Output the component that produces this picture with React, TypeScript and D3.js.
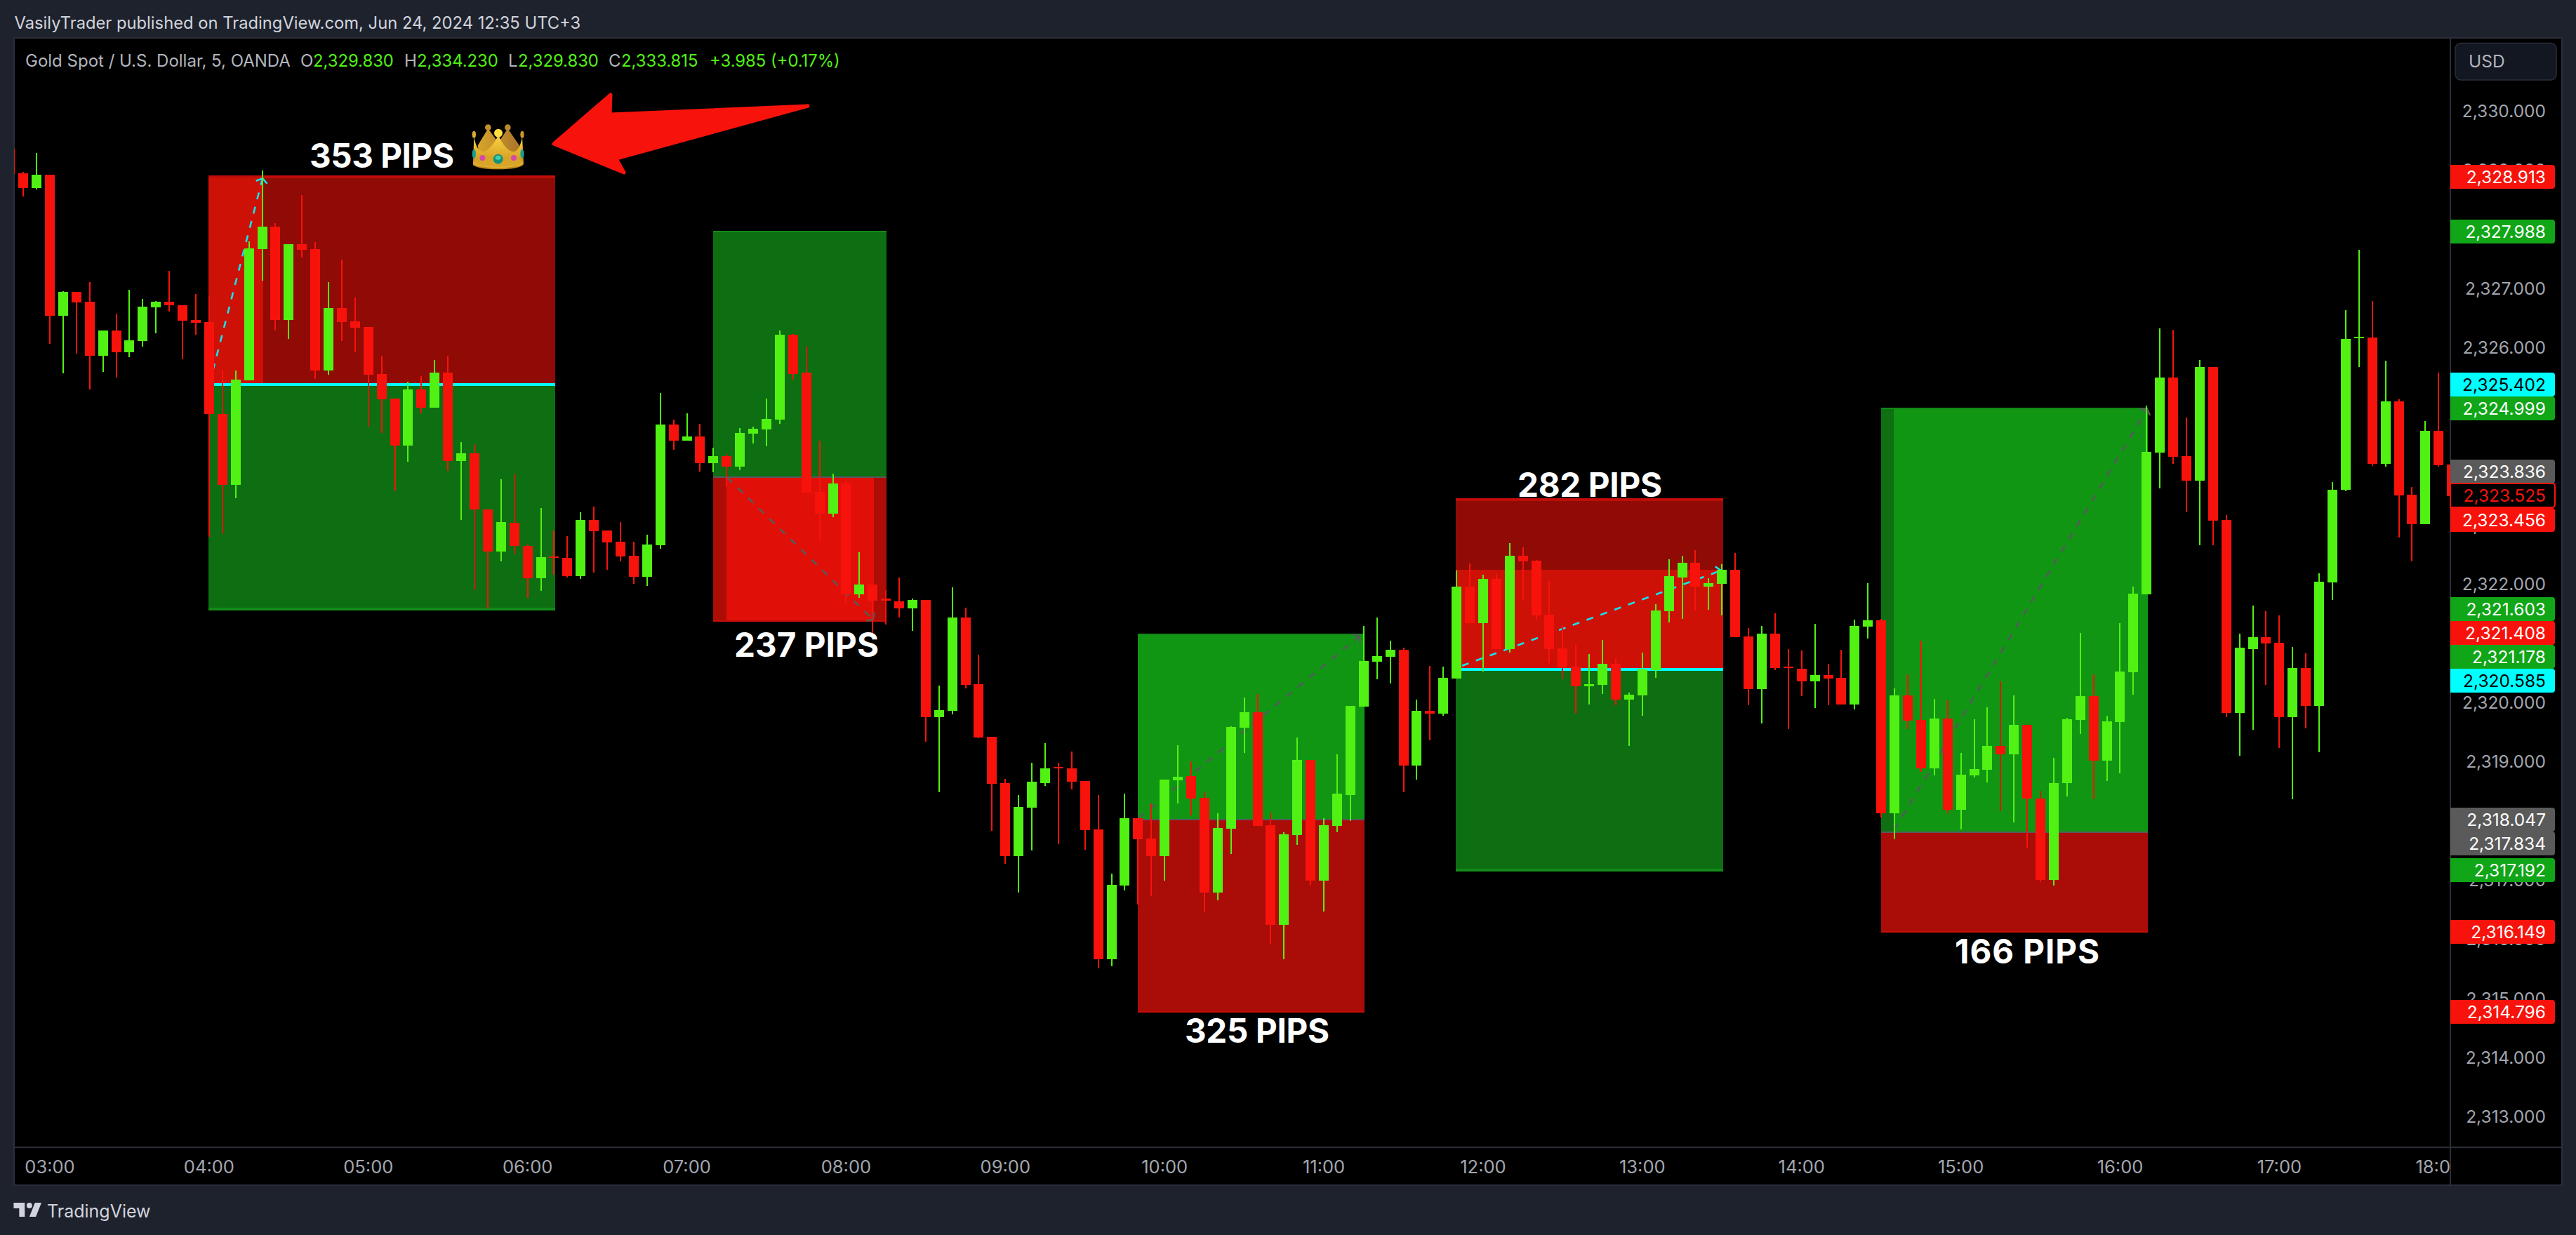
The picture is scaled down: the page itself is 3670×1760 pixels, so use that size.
import React from "react";
import * as d3 from "d3";

// ---------- data ----------
const symbolTitle = "Gold Spot / U.S. Dollar, 5, OANDA";
const publishLine = "VasilyTrader published on TradingView.com, Jun 24, 2024 12:35 UTC+3";
const ohlcLabels = ["O", "H", "L", "C"];
const ohlcValues = ["2,329.830", "2,334.230", "2,329.830", "2,333.815"];
const changeText = "+3.985 (+0.17%)";
const hourLabels = ["03:00","04:00","05:00","06:00","07:00","08:00","09:00","10:00","11:00","12:00","13:00","14:00","15:00","16:00","17:00","18:00"];
const priceTicks = [2330,2329,2328,2327,2326,2325,2324,2323,2322,2321,2320,2319,2318,2317,2316,2315,2314,2313];
const priceTags: [number, string][] = [
  [2328.913,"red"],[2327.988,"green"],[2325.402,"cyan"],[2324.999,"green"],[2323.836,"grey"],[2323.525,"outline"],[2323.456,"red"],
  [2321.603,"green"],[2321.408,"red"],[2321.178,"green"],[2320.585,"cyan"],[2318.047,"grey"],[2317.834,"grey"],[2317.192,"green"],[2316.149,"red"],[2314.796,"red"],
];
const pipLabels = ["353 PIPS","237 PIPS","325 PIPS","282 PIPS","166 PIPS"];

// first bar is three 5-minute bars before 03:00; [open, high, low, close]
const firstBar = -3;
const bars: [number,number,number,number][] = [
[2329.36,2329.36,2328.93,2328.93],[2328.95,2328.97,2328.55,2328.69],[2328.69,2329.29,2328.67,2328.92],
[2328.92,2328.92,2326.06,2326.54],[2326.54,2326.95,2325.56,2326.94],[2326.94,2326.94,2325.89,2326.76],[2326.77,2327.11,2325.29,2325.86],
[2325.86,2326.29,2325.59,2326.29],[2326.29,2326.57,2325.49,2325.92],[2325.92,2326.97,2325.84,2326.12],[2326.11,2326.82,2326.02,2326.69],
[2326.68,2326.78,2326.24,2326.77],[2326.77,2327.29,2326.61,2326.71],[2326.72,2326.72,2325.80,2326.45],[2326.46,2326.90,2326.21,2326.42],
[2326.43,2326.88,2322.80,2324.88],[2324.88,2325.61,2322.85,2323.68],[2323.68,2325.61,2323.45,2325.46],[2325.44,2327.79,2325.44,2327.68],
[2327.66,2328.99,2327.13,2328.04],[2328.04,2328.10,2326.29,2326.46],[2326.46,2327.75,2326.14,2327.75],[2327.75,2328.58,2327.52,2327.65],
[2327.66,2327.78,2325.47,2325.61],[2325.61,2327.11,2325.54,2326.67],[2326.67,2327.48,2326.11,2326.43],[2326.44,2326.84,2325.92,2326.34],
[2326.35,2326.35,2324.66,2325.54],[2325.55,2325.86,2324.55,2325.13],[2325.14,2325.14,2323.57,2324.34],[2324.34,2325.42,2324.07,2325.29],
[2325.29,2325.52,2324.89,2324.98],[2324.98,2325.79,2324.98,2325.58],[2325.58,2325.86,2323.91,2324.08],[2324.08,2324.40,2323.08,2324.21],
[2324.21,2324.36,2321.90,2323.26],[2323.26,2323.26,2321.59,2322.55],[2322.55,2323.77,2322.39,2323.05],[2323.04,2323.87,2322.50,2322.65],
[2322.65,2322.67,2321.77,2322.10],[2322.10,2323.28,2321.89,2322.45],[2322.47,2322.91,2322.16,2322.45],[2322.44,2322.81,2322.11,2322.14],
[2322.14,2323.22,2322.09,2323.09],[2323.09,2323.31,2322.19,2322.90],[2322.91,2322.91,2322.24,2322.71],[2322.72,2323.05,2322.38,2322.47],
[2322.48,2322.72,2322.00,2322.12],[2322.12,2322.83,2321.97,2322.67],[2322.66,2325.23,2322.60,2324.70],[2324.70,2324.78,2324.27,2324.42],
[2324.42,2324.89,2324.42,2324.49],[2324.49,2324.71,2323.90,2324.05],[2324.05,2324.31,2323.89,2324.16],[2324.16,2324.20,2323.64,2323.99],
[2323.99,2324.64,2323.93,2324.56],[2324.54,2324.66,2324.38,2324.63],[2324.62,2325.14,2324.33,2324.79],[2324.78,2326.29,2324.71,2326.22],
[2326.22,2326.23,2325.46,2325.55],[2325.57,2326.03,2323.55,2323.55],[2323.56,2324.43,2322.73,2323.19],[2323.19,2323.87,2323.13,2323.70],
[2323.70,2323.74,2321.68,2321.83],[2321.83,2322.54,2321.77,2321.99],[2321.99,2321.99,2321.16,2321.72],[2321.75,2321.90,2321.32,2321.72],
[2321.71,2322.11,2321.43,2321.59],[2321.59,2321.76,2321.21,2321.73],[2321.73,2321.73,2319.33,2319.75],[2319.75,2320.29,2318.48,2319.87],
[2319.86,2321.94,2319.80,2321.44],[2321.44,2321.60,2320.24,2320.30],[2320.31,2320.81,2319.40,2319.41],[2319.42,2319.42,2317.83,2318.62],
[2318.63,2318.71,2317.27,2317.40],[2317.40,2318.44,2316.79,2318.23],[2318.22,2318.98,2317.50,2318.66],[2318.64,2319.31,2318.59,2318.89],
[2318.91,2318.98,2317.60,2318.88],[2318.89,2319.17,2318.53,2318.66],[2318.67,2318.67,2317.51,2317.84],[2317.85,2318.44,2315.51,2315.66],
[2315.66,2317.10,2315.54,2316.91],[2316.90,2318.46,2316.82,2318.04],[2318.04,2318.04,2316.58,2317.69],[2317.70,2318.29,2316.73,2317.40],
[2317.40,2318.69,2316.99,2318.69],[2318.68,2319.28,2318.29,2318.74],[2318.75,2319.00,2318.09,2318.37],[2318.39,2318.48,2316.45,2316.79],
[2316.79,2318.13,2316.66,2317.88],[2317.87,2319.60,2317.44,2319.58],[2319.57,2320.08,2319.14,2319.83],[2319.83,2320.14,2317.91,2317.91],
[2317.92,2318.14,2315.92,2316.24],[2316.24,2317.80,2315.66,2317.77],[2317.76,2319.41,2317.59,2319.03],[2319.03,2319.03,2316.90,2316.99],
[2316.99,2318.04,2316.46,2317.92],[2317.91,2319.12,2317.80,2318.46],[2318.44,2319.94,2318.00,2319.94],[2319.93,2321.29,2319.93,2320.70],
[2320.69,2321.43,2320.39,2320.78],[2320.77,2321.04,2320.32,2320.89],[2320.89,2320.93,2318.48,2318.93],[2318.93,2320.05,2318.69,2319.86],
[2319.86,2320.62,2319.36,2319.81],[2319.81,2320.60,2319.78,2320.41],[2320.40,2322.23,2320.40,2321.96],[2321.96,2322.35,2321.34,2321.34],
[2321.34,2322.16,2320.52,2322.09],[2322.09,2322.18,2320.90,2320.90],[2320.90,2322.69,2320.84,2322.48],[2322.48,2322.62,2321.73,2322.38],
[2322.40,2322.41,2321.40,2321.47],[2321.48,2322.05,2320.67,2320.90],[2320.91,2321.31,2320.40,2320.59],[2320.61,2320.97,2319.81,2320.27],
[2320.27,2320.82,2319.97,2320.31],[2320.30,2321.06,2320.14,2320.65],[2320.65,2320.75,2319.95,2320.05],[2320.05,2320.17,2319.27,2320.13],
[2320.12,2320.84,2319.78,2320.56],[2320.55,2321.66,2320.41,2321.55],[2321.54,2322.42,2321.35,2322.13],[2322.11,2322.48,2321.41,2322.36],
[2322.36,2322.58,2321.55,2321.96],[2321.96,2322.10,2321.56,2322.02],[2322.00,2322.34,2321.47,2322.24],[2322.24,2322.53,2321.10,2321.10],
[2321.11,2321.26,2319.95,2320.22],[2320.22,2321.29,2319.65,2321.16],[2321.16,2321.51,2320.54,2320.58],[2320.61,2320.90,2319.55,2320.58],
[2320.57,2320.88,2320.11,2320.36],[2320.36,2321.33,2319.90,2320.46],[2320.46,2320.65,2319.95,2320.40],[2320.41,2320.89,2319.96,2319.97],
[2319.97,2321.40,2319.88,2321.29],[2321.28,2322.02,2321.08,2321.39],[2321.39,2321.41,2318.06,2318.13],[2318.13,2320.24,2317.69,2320.12],
[2320.12,2320.47,2319.55,2319.69],[2319.70,2321.04,2318.83,2318.89],[2318.88,2320.06,2318.77,2319.73],[2319.73,2320.04,2318.12,2318.18],
[2318.18,2319.15,2317.85,2318.78],[2318.77,2319.71,2318.73,2318.87],[2318.86,2319.92,2318.65,2319.26],[2319.26,2320.35,2318.16,2319.12],
[2319.12,2320.12,2317.97,2319.62],[2319.62,2319.62,2317.53,2318.37],[2318.38,2318.50,2316.96,2317.00],[2317.00,2319.06,2316.90,2318.63],
[2318.63,2319.74,2318.41,2319.71],[2319.70,2321.17,2319.47,2320.11],[2320.11,2320.47,2318.36,2319.01],[2319.01,2319.78,2318.67,2319.68],
[2319.67,2321.34,2318.80,2320.52],[2320.51,2321.96,2320.13,2321.84],[2321.83,2325.02,2321.83,2324.23],[2324.22,2326.32,2323.62,2325.49],
[2325.49,2326.30,2324.03,2324.15],[2324.16,2324.82,2323.21,2323.75],[2323.75,2325.79,2322.66,2325.67],[2325.67,2325.67,2322.66,2323.07],
[2323.08,2323.17,2319.75,2319.82],[2319.82,2321.16,2319.10,2320.92],[2320.90,2321.64,2319.54,2321.10],[2321.10,2321.54,2320.30,2321.00],
[2321.01,2321.47,2319.23,2319.75],[2319.75,2320.94,2318.36,2320.58],[2320.58,2320.83,2319.56,2319.94],[2319.94,2322.18,2319.16,2322.04],
[2322.03,2323.73,2321.73,2323.60],[2323.60,2326.63,2323.57,2326.14],[2326.16,2327.65,2325.67,2326.18],[2326.17,2326.79,2324.00,2324.03],
[2324.03,2325.78,2323.98,2325.09],[2325.09,2325.12,2322.79,2323.50],[2323.51,2323.64,2322.38,2323.01],[2323.01,2324.76,2323.01,2324.59],
[2324.59,2325.57,2323.98,2324.01],[2324.02,2324.02,2323.49,2323.49],
];

// position tools: bar range and [top, entry, bottom] prices
const positionBars: [number,number][] = [[11.94,38.08],[49.98,63.03],[81.98,99.06],[105.94,126.09],[137.98,158.07]];
const positionPrices: [number,number,number][] = [
  [2328.885,2325.37,2321.58],[2327.96,2323.81,2321.38],[2321.15,2318.02,2314.77],[2323.43,2320.56,2317.16],[2324.97,2317.81,2316.12],
];
// tint ranges inside the positions: bar range and price range
const tintBars: [number,number][] = [[11.94,16.08],[49.98,63.03],[50.98,62.09],[105.94,126.09],[137.98,138.95]];
const tintPrices: [number,number][] = [[2328.885,2325.37],[2323.81,2321.38],[2323.81,2321.38],[2322.24,2320.56],[2324.97,2317.81]];
// trade paths: [startBar, startPrice, endBar, endPrice]
const tradePaths: [number,number,number,number][] = [
  [12.01,2325.37,16.03,2328.86],[51.04,2323.80,62.04,2321.40],[82.03,2318.04,98.69,2321.12],[106.42,2320.62,125.93,2322.23],[138.99,2317.85,158.04,2324.96],
];

// ---------- styles ----------
const W = 3670, H = 1760;
const pane = { l: 20, r: 3491, t: 54, b: 1635, outerR: 3650, outerB: 1689 };
const C = {
  bg: "#1e222d", line: "#2a2e39", up: "#51f213", down: "#f7130c", tick: "#a3a6af", txt: "#b2b5be", head: "#d1d4dc",
  tagGreen: "#11a618", tagGrey: "#5a5a5a", cyan: "#00ffff", pathGrey: "#565a5c", pathCyan: "#14e3ee",
};
const posStyles = [
  { upper: "#900a06", lower: "#0d6e12", topLine: "#c10d08", entryLine: C.cyan, botLine: "#128a18", w: 4, path: C.pathCyan },
  { upper: "#0d6e12", lower: "#ad0c07", topLine: "#128a18", entryLine: "#565a5c", botLine: "#c80e08", w: 2, path: C.pathGrey },
  { upper: "#119614", lower: "#aa0c07", topLine: "#128a18", entryLine: "#565a5c", botLine: "#c80e08", w: 2, path: C.pathGrey },
  { upper: "#900a06", lower: "#0d6e12", topLine: "#c10d08", entryLine: C.cyan, botLine: "#128a18", w: 4, path: C.pathCyan },
  { upper: "#119614", lower: "#aa0c07", topLine: "#128a18", entryLine: "#565a5c", botLine: "#c80e08", w: 2, path: C.pathGrey },
];
const tintFills = ["#cd1107", "#ad0c07", "#e01009", "#cd1107", "#0e7012"];
const tagNudge = [2.4,2.4,2.4,2.4,-5.6,2.2,31.3,2.1,19.7,34.3,18.3,2.4,18.4,2.3,2.4,2.3];
const pipSpots: [number, number][] = [[441,239],[1046,936],[1688,1486],[2162,708],[2785,1373]];
const legendXs = [428,576,724,867];
const legendValueXs = [446,594,738,885];
const UI = "Inter, Roboto, sans-serif";

const x = d3.scaleLinear().domain([0, 180]).range([71, 71 + 18.907 * 180]);
const y = d3.scaleLinear().domain([2330, 2313]).range([158, 158 + 84.3 * 17]);
const pathGen = d3.line<[number, number]>().x(d => x(d[0])).y(d => y(d[1]));

function Crown() {
  return (
    <g transform="translate(660,120) scale(0.3333)">
      <defs>
        <linearGradient id="cf" x1="0" y1="0" x2="0" y2="1">
          <stop offset="0" stopColor="#fbd544" /><stop offset="0.7" stopColor="#d9a326" /><stop offset="1" stopColor="#b97f17" />
        </linearGradient>
        <linearGradient id="cb" x1="0" y1="0" x2="1" y2="0">
          <stop offset="0" stopColor="#d8a52c" /><stop offset="1" stopColor="#a9752a" />
        </linearGradient>
      </defs>
      <path d="M62,262 L106,190 L150,250 L190,190 L240,262 L232,310 L70,310 Z" fill="url(#cb)" />
      <circle cx="106" cy="185" r="13" fill="#c2902a" />
      <circle cx="190" cy="185" r="13" fill="#b98a2c" />
      <path d="M46,225 Q58,290 86,288 Q118,280 150,218 Q178,280 212,288 Q240,290 252,225 L258,340 Q150,372 42,340 Z" fill="url(#cf)" />
      <circle cx="150" cy="209" r="18" fill="#ffdf3f" />
      <ellipse cx="46" cy="215" rx="8" ry="15" fill="#d9a932" />
      <ellipse cx="252" cy="215" rx="8" ry="15" fill="#c8982e" />
      <ellipse cx="149" cy="342" rx="108" ry="22" fill="#c08a1d" />
      <ellipse cx="149" cy="337" rx="108" ry="20" fill="#e6b834" />
      <ellipse cx="149" cy="333" rx="106" ry="20" fill="#d9a528" />
      <ellipse cx="46" cy="298" rx="8" ry="20" fill="#1d9f87" />
      <ellipse cx="252" cy="298" rx="8" ry="20" fill="#1d9f87" />
      <circle cx="149" cy="320" r="21" fill="#14917a" />
      <ellipse cx="149" cy="314" rx="12" ry="9" fill="#3fd0b0" />
      <circle cx="82" cy="315" r="12" fill="#d44aa8" />
      <circle cx="216" cy="315" r="12" fill="#d44aa8" />
    </g>
  );
}

function wings(p: [number,number,number,number]) {
  const x1 = x(p[2]), y1 = y(p[3]);
  const a = Math.atan2(y(p[1]) - y1, x(p[0]) - x1);
  return [a - 0.95, a + 0.95].map(t => `M${x1},${y1}L${x1 + 14 * Math.cos(t)},${y1 + 14 * Math.sin(t)}`).join("");
}

export default function App() {
  const tagFill: Record<string, string> = { red: C.down, green: C.tagGreen, cyan: C.cyan, grey: C.tagGrey, outline: "#000" };
  const bodyW = 14;
  return (
    <svg width={W} height={H} viewBox={`0 0 ${W} ${H}`} style={{ position: "absolute", left: 0, top: 0, display: "block" }} xmlns="http://www.w3.org/2000/svg">
      <defs>
        <clipPath id="pane"><rect x={pane.l} y={pane.t} width={pane.r - pane.l} height={pane.b - pane.t} /></clipPath>
        <clipPath id="timeclip"><rect x={pane.l} y={pane.b} width={pane.r - pane.l} height={pane.outerB - pane.b} /></clipPath>
      </defs>
      <rect width={W} height={H} fill={C.bg} />
      <rect x={pane.l} y={pane.t} width={pane.outerR - pane.l} height={pane.outerB - pane.t} fill="#000" stroke={C.line} strokeWidth={2} />
      <line x1={pane.l} x2={pane.outerR} y1={pane.b} y2={pane.b} stroke={C.line} strokeWidth={2} />
      <line x1={pane.r} x2={pane.r} y1={pane.t} y2={pane.outerB} stroke={C.line} strokeWidth={2} />

      {/* header */}
      <text x={20.5} y={41} fontFamily={UI} fontSize={23.75} fill={C.head}>{publishLine}</text>
      <text x={36} y={95} fontFamily={UI} fontSize={24} fill={C.txt}>{symbolTitle}</text>
      {ohlcLabels.map((t, i) => <text key={t} x={legendXs[i]} y={95} fontFamily={UI} fontSize={24} fill={C.txt}>{t}</text>)}
      {ohlcValues.map((t, i) => <text key={i} x={legendValueXs[i]} y={95} fontFamily={UI} fontSize={23.8} fill={C.up}>{t}</text>)}
      <text x={1011} y={95} fontFamily={UI} fontSize={23.8} fill={C.up}>{changeText}</text>

      <g clipPath="url(#pane)" shapeRendering="crispEdges">
        {positionBars.map((b, i) => {
          const [top, entry, bot] = positionPrices[i];
          const s = posStyles[i];
          const x0 = x(b[0]), x1 = x(b[1]);
          return (
            <g key={i}>
              <rect x={x0} y={y(top)} width={x1 - x0} height={y(entry) - y(top)} fill={s.upper} />
              <rect x={x0} y={y(entry)} width={x1 - x0} height={y(bot) - y(entry)} fill={s.lower} />
            </g>
          );
        })}
        {tintBars.map((b, i) => (
          <rect key={i} x={x(b[0])} y={y(tintPrices[i][0])} width={x(b[1]) - x(b[0])} height={y(tintPrices[i][1]) - y(tintPrices[i][0])} fill={tintFills[i]} />
        ))}
        {positionBars.map((b, i) => {
          const s = posStyles[i];
          const x0 = x(b[0]), x1 = x(b[1]);
          const keys: (keyof typeof s)[] = ["topLine", "entryLine", "botLine"];
          return keys.map((k, j) => (
            <rect key={`${i}-${j}`} x={x0} y={y(positionPrices[i][j]) - s.w / 2} width={x1 - x0} height={s.w} fill={s[k] as string} />
          ));
        })}
      </g>

      {/* trade paths */}
      <g clipPath="url(#pane)" fill="none">
        {tradePaths.map((p, i) => (
          <g key={i} stroke={posStyles[i].path} strokeWidth={2.6}>
            <path d={pathGen([[p[0], p[1]], [p[2], p[3]]]) as string} strokeDasharray="10 11" />
            <path d={wings(p)} strokeDasharray="10 4" />
          </g>
        ))}
      </g>

      {/* candles */}
      <g clipPath="url(#pane)" shapeRendering="crispEdges">
        {bars.map((d, idx) => {
          const i = idx + firstBar;
          const [o, h, l, c] = d;
          const col = c > o ? C.up : C.down;
          const cx = Math.round(x(i));
          const top = Math.round(y(Math.max(o, c)));
          const bot = Math.round(y(Math.min(o, c)));
          return (
            <g key={i} fill={col}>
              <rect x={cx - 1} y={Math.round(y(h))} width={2} height={Math.max(1, Math.round(y(l)) - Math.round(y(h)))} />
              <rect x={cx - bodyW / 2} y={top} width={bodyW} height={Math.max(2, bot - top)} />
            </g>
          );
        })}
      </g>

      {/* annotations */}
      {pipLabels.map((t, i) => (
        <text key={t} x={pipSpots[i][0]} y={pipSpots[i][1]} fontFamily={UI} fontWeight={700} fontSize={47.5} textLength={206} lengthAdjust="spacing" fill="#fff">{t}</text>
      ))}
      <Crown />
      <path d="M789,205 L870,135 L869,163 L1151,151 L878,226 L889,246 Z" fill={C.down} stroke={C.down} strokeWidth={5} strokeLinejoin="round" />

      {/* time axis */}
      <g clipPath="url(#timeclip)">
        {hourLabels.map((t, i) => (
          <text key={t} x={x(i * 12)} y={1672} textAnchor="middle" fontFamily={UI} fontSize={25.5} fill={C.tick}>{t}</text>
        ))}
      </g>

      {/* price axis */}
      {priceTicks.map(p => (
        <text key={p} x={3627} y={y(p) + 9} textAnchor="end" fontFamily={UI} fontSize={24.5} fill={C.tick}>{d3.format(",.3f")(p)}</text>
      ))}
      {priceTags.map(([v, kind], i) => {
        const cy = y(v) + tagNudge[i];
        const t = cy - 17, b = cy + 17, l = pane.r, r = 3640, rad = 4;
        const shape = `M${l},${t}H${r - rad}Q${r},${t} ${r},${t + rad}V${b - rad}Q${r},${b} ${r - rad},${b}H${l}Z`;
        return (
          <g key={v}>
            <path d={shape} fill={tagFill[kind]} stroke={kind === "outline" ? C.down : "none"} strokeWidth={2} />
            <text x={3627} y={cy + 9} textAnchor="end" fontFamily={UI} fontSize={24.5}
              fill={kind === "cyan" ? "#000" : kind === "outline" ? C.down : "#fff"}>{d3.format(",.3f")(v)}</text>
          </g>
        );
      })}
      <rect x={3498} y={61.5} width={144} height={52.5} rx={8} fill="#131722" stroke={C.line} strokeWidth={1.5} />
      <text x={3517} y={96} fontFamily={UI} fontSize={24.5} fill={C.txt}>USD</text>

      {/* footer */}
      <path transform="translate(16.8,1706) scale(1.32,1.33)" d="M14 6H2v6h6v9h6V6zm12 15h-7l6-15h7l-6 15zm-7-9a3 3 0 1 0 0-6 3 3 0 0 0 0 6z" fill={C.head} />
      <text x={67} y={1735} fontFamily={UI} fontSize={25} fill={C.head}>TradingView</text>
    </svg>
  );
}
